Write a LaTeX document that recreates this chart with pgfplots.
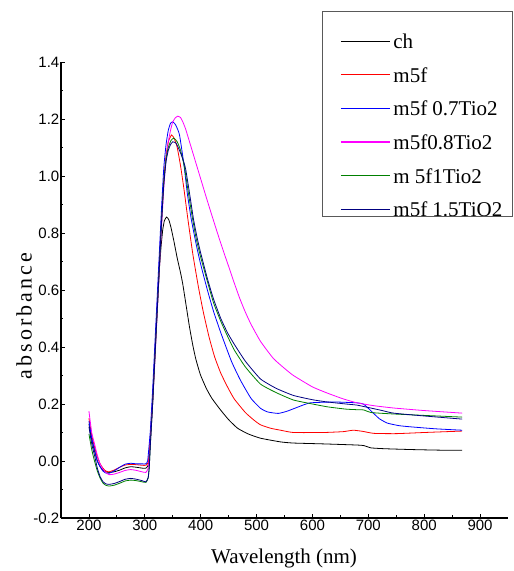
\documentclass[border=0pt]{standalone}
\usepackage{pgfplots}
\pgfplotsset{compat=1.18}
\usepackage{fontspec}
\setmainfont{Liberation Serif}
\newfontfamily\arialfont{Liberation Sans}
\newfontfamily\spacedserif[LetterSpace=14]{Liberation Serif}
\definecolor{navy}{RGB}{0,0,128}
\definecolor{dgreen}{RGB}{0,128,0}
\definecolor{mag}{RGB}{255,0,255}
\definecolor{pureblue}{RGB}{0,0,255}
\definecolor{purered}{RGB}{255,0,0}
\begin{document}
\begin{tikzpicture}
\useasboundingbox (0,0) rectangle (514pt,571pt);
\begin{axis}[
  at={(61pt,53pt)}, anchor=south west,
  scale only axis, width=447pt, height=456pt,
  xmin=150, xmax=950, ymin=-0.2, ymax=1.4,
  enlargelimits=false,
  axis lines=left, axis line style={-, line width=1.2pt},
  xtick={200,300,...,900}, ytick={-0.2,0,0.2,0.4,0.6,0.8,1.0,1.2,1.4},
  minor x tick num=1, minor y tick num=1,
  tick align=inside, major tick length=4pt, minor tick length=2.5pt,
  tick style={black, line width=0.8pt},
  ticklabel style={font=\arialfont\fontsize{15}{15}\selectfont},
  /pgf/number format/assume math mode=true,
  scaled ticks=false,
  yticklabel style={/pgf/number format/.cd, fixed, fixed zerofill, precision=1, /tikz/.cd, inner sep=1.5pt},
  xticklabel style={inner sep=2pt},
  xlabel={Wavelength (nm)},
  ylabel={absorbance},
  xlabel style={at={(axis description cs:0.499,-0.0877)}, anchor=center, font=\fontsize{21}{21}\selectfont},
  ylabel style={at={(axis description cs:-0.0828,0.443)}, anchor=center, font=\spacedserif\fontsize{22}{22}\selectfont},
  legend cell align=left,
  legend image code/.code={\draw[#1, line width=1.2pt] (0pt,3.5pt) -- (49pt,3.5pt);},
  legend style={at={(axis description cs:0.6242,1.0559)}, anchor=north west, draw=none, fill=none,
    inner sep=0pt, row sep=17.6pt, column sep=3pt,
    nodes={inner sep=0pt, text height=12pt, text depth=4pt},
    font=\fontsize{21}{21}\selectfont},
  every axis plot/.append style={line width=0.8pt, smooth, tension=0.3},
]
% ch
\addplot[black] coordinates {(200,0.13)(205,0.075)(210,0.035)(215,0.0)(220,-0.02)(225,-0.032)(230,-0.038)(236,-0.04)(245,-0.038)(255,-0.032)(265,-0.024)(275,-0.02)(285,-0.022)(295,-0.025)(302,-0.025)(306,-0.015)(308,0.02)(310,0.08)(314,0.21)(317,0.33)(320,0.45)(323,0.56)(326,0.67)(329,0.75)(332,0.81)(335,0.843)(339,0.856)(343,0.846)(347,0.818)(352,0.772)(358,0.712)(364,0.66)(368,0.62)(374,0.545)(380,0.47)(386,0.405)(391,0.36)(396,0.325)(400,0.30)(410,0.255)(420,0.22)(436,0.178)(450,0.145)(466,0.115)(485,0.095)(507,0.08)(543,0.067)(566,0.063)(620,0.06)(680,0.056)(692,0.054)(705,0.046)(730,0.043)(780,0.04)(830,0.038)(868,0.038)};
\addlegendentry{ch}
% m5f
\addplot[purered] coordinates {(200,0.15)(205,0.09)(210,0.05)(215,0.015)(220,-0.01)(225,-0.025)(230,-0.035)(236,-0.038)(245,-0.032)(255,-0.022)(265,-0.014)(275,-0.012)(285,-0.013)(295,-0.015)(302,-0.015)(306,-0.005)(308,0.03)(310,0.09)(314,0.22)(317,0.34)(320,0.46)(323,0.58)(326,0.70)(330,0.86)(334,0.99)(338,1.07)(342,1.12)(348,1.144)(353,1.13)(358,1.10)(364,1.035)(370,0.955)(377,0.85)(386,0.725)(396,0.61)(405,0.52)(415,0.435)(425,0.365)(436,0.308)(448,0.26)(460,0.218)(480,0.17)(495,0.144)(507,0.127)(525,0.115)(543,0.108)(566,0.10)(620,0.10)(655,0.103)(673,0.108)(690,0.104)(710,0.097)(750,0.096)(800,0.10)(868,0.105)};
\addlegendentry{m5f}
% m5f 0.7Tio2
\addplot[pureblue] coordinates {(200,0.14)(205,0.08)(210,0.04)(215,0.0)(220,-0.02)(225,-0.035)(230,-0.042)(236,-0.043)(245,-0.035)(255,-0.022)(265,-0.011)(275,-0.008)(285,-0.01)(295,-0.01)(302,-0.01)(305,0.0)(307,0.04)(310,0.11)(314,0.25)(317,0.37)(320,0.49)(323,0.61)(326,0.73)(330,0.89)(334,1.03)(338,1.11)(342,1.16)(346,1.185)(350,1.19)(355,1.18)(362,1.145)(370,1.04)(376,0.94)(383,0.85)(392,0.76)(400,0.69)(412,0.60)(423,0.525)(436,0.45)(455,0.35)(471,0.284)(490,0.22)(507,0.185)(520,0.172)(539,0.167)(555,0.175)(575,0.19)(596,0.204)(640,0.207)(680,0.204)(691,0.20)(700,0.185)(709,0.168)(720,0.148)(734,0.133)(755,0.124)(775,0.12)(820,0.113)(868,0.108)};
\addlegendentry{m5f 0.7Tio2}
% m5f0.8Tio2
\addplot[mag] coordinates {(200,0.175)(205,0.10)(210,0.06)(215,0.02)(220,-0.01)(225,-0.028)(230,-0.04)(236,-0.048)(245,-0.046)(255,-0.04)(265,-0.033)(275,-0.03)(285,-0.033)(295,-0.038)(302,-0.04)(306,-0.025)(308,0.01)(310,0.07)(314,0.20)(317,0.31)(320,0.43)(323,0.55)(326,0.67)(330,0.82)(334,0.96)(338,1.06)(342,1.12)(346,1.16)(350,1.19)(355,1.205)(359,1.21)(364,1.205)(368,1.19)(373,1.165)(380,1.12)(390,1.055)(400,0.99)(410,0.925)(420,0.862)(430,0.80)(440,0.74)(450,0.683)(460,0.625)(470,0.57)(480,0.522)(490,0.48)(507,0.42)(530,0.36)(550,0.325)(566,0.30)(600,0.26)(627,0.238)(655,0.218)(680,0.204)(710,0.194)(745,0.186)(800,0.177)(868,0.168)};
\addlegendentry{m5f0.8Tio2}
% m 5f1Tio2
\addplot[dgreen] coordinates {(200,0.095)(205,0.04)(210,0.0)(215,-0.035)(220,-0.06)(225,-0.077)(230,-0.085)(236,-0.088)(245,-0.085)(255,-0.078)(265,-0.07)(275,-0.067)(285,-0.069)(295,-0.073)(302,-0.075)(306,-0.06)(308,-0.02)(310,0.06)(314,0.20)(317,0.32)(320,0.44)(323,0.56)(326,0.68)(330,0.84)(334,0.98)(338,1.06)(342,1.10)(347,1.125)(352,1.133)(358,1.12)(364,1.09)(371,1.03)(378,0.94)(385,0.855)(392,0.78)(400,0.715)(412,0.63)(423,0.555)(436,0.49)(448,0.438)(460,0.39)(480,0.33)(507,0.27)(535,0.24)(566,0.214)(600,0.20)(627,0.19)(660,0.182)(680,0.18)(692,0.179)(705,0.17)(745,0.165)(800,0.16)(868,0.154)};
\addlegendentry{m 5f1Tio2}
% m5f 1.5TiO2
\addplot[navy] coordinates {(200,0.12)(205,0.06)(210,0.02)(215,-0.025)(220,-0.055)(225,-0.072)(230,-0.08)(236,-0.082)(245,-0.079)(255,-0.072)(265,-0.064)(275,-0.061)(285,-0.064)(295,-0.069)(302,-0.073)(306,-0.058)(308,-0.02)(310,0.06)(314,0.20)(317,0.32)(320,0.44)(323,0.56)(326,0.68)(330,0.84)(334,0.97)(338,1.05)(342,1.09)(346,1.11)(350,1.12)(356,1.115)(362,1.09)(368,1.06)(373,1.025)(380,0.94)(387,0.85)(394,0.78)(400,0.73)(412,0.64)(423,0.568)(436,0.50)(448,0.45)(460,0.41)(480,0.35)(507,0.288)(535,0.255)(566,0.23)(600,0.215)(627,0.207)(660,0.20)(680,0.196)(704,0.186)(725,0.177)(745,0.168)(800,0.158)(868,0.147)};
\addlegendentry{m5f 1.5TiO2}
\end{axis}
\draw[line width=1pt, black!65] (322pt,354pt) rectangle (512pt,559pt);
\end{tikzpicture}
\end{document}
